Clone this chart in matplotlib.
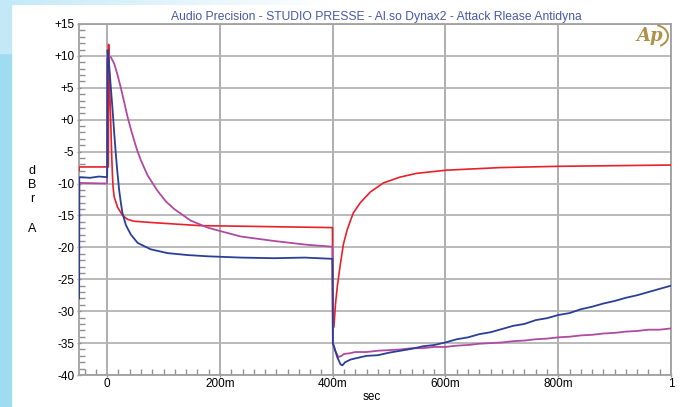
import matplotlib.pyplot as plt
import numpy as np
from matplotlib.patches import Rectangle, Arc
from matplotlib.colors import LinearSegmentedColormap
from matplotlib.ticker import MultipleLocator

plt.rcParams['font.family'] = ['Liberation Sans', 'DejaVu Sans']

TITLE = "Audio Precision - STUDIO PRESSE - Al.so Dynax2 - Attack Rlease Antidyna"

# channel A, red trace (time in s, level in dBr A)
red_t = [-0.0498, -0.0495, 0.002, 0.0025, 0.0035, 0.0049, 0.0067, 0.0078, 0.0092,
         0.0104, 0.0124, 0.0184, 0.0273, 0.036, 0.047, 0.077, 0.13, 0.166, 0.25,
         0.32, 0.3995, 0.4004, 0.4021, 0.4048, 0.4083, 0.4136, 0.419, 0.4255,
         0.4315, 0.4366, 0.449, 0.467, 0.49, 0.519, 0.549, 0.6025, 0.697, 0.8,
         0.9, 1.0]
red_db = [-8.0, -7.4, -7.4, 11.8, 8.0, 3.6, -1.6, -5.0, -8.5,
          -10.5, -12.1, -13.7, -15.0, -15.6, -15.9, -16.1, -16.4, -16.6, -16.7,
          -16.8, -16.9, -32.5, -32.5, -29.0, -26.0, -22.6, -19.5, -17.3,
          -15.8, -14.6, -13.0, -11.3, -9.9, -9.0, -8.4, -7.9, -7.5, -7.3,
          -7.2, -7.1]

# blue trace
blue_t = [-0.0498, -0.0495, -0.03, -0.015, 0.0, 0.0007, 0.0035, 0.0065, 0.0096,
          0.0124, 0.0154, 0.0184, 0.0212, 0.0242, 0.027, 0.0331, 0.042, 0.054,
          0.077, 0.107, 0.142, 0.178, 0.237, 0.296, 0.35, 0.3995, 0.4003, 0.408,
          0.4137, 0.417, 0.422, 0.431, 0.44, 0.46, 0.48, 0.50, 0.52, 0.54, 0.56,
          0.58, 0.60, 0.62, 0.64, 0.66, 0.68, 0.70, 0.72, 0.74, 0.76, 0.78, 0.80,
          0.82, 0.84, 0.86, 0.88, 0.90, 0.92, 0.94, 0.96, 0.98, 1.0]
blue_db = [-28.0, -9.0, -9.1, -8.9, -9.0, 10.9, 8.5, 5.0, 1.5,
           -2.0, -5.5, -8.5, -11.0, -13.0, -14.6, -16.5, -18.0, -19.3,
           -20.3, -20.9, -21.2, -21.4, -21.6, -21.7, -21.6, -21.8, -35.0, -37.2,
           -38.3, -38.5, -38.0, -37.6, -37.4, -37.0, -36.9, -36.5, -36.2, -35.9, -35.5,
           -35.3, -34.9, -34.4, -34.1, -33.6, -33.3, -32.8, -32.3, -32.0, -31.4, -31.1, -30.6,
           -30.3, -29.7, -29.3, -28.8, -28.4, -27.9, -27.5, -27.0, -26.5, -26.0]

# magenta trace
mag_t = [-0.0498, -0.0495, -0.0002, 0.0, 0.003, 0.0065, 0.0124, 0.0184, 0.0242,
         0.030, 0.036, 0.042, 0.048, 0.054, 0.060, 0.0715, 0.089, 0.104, 0.119,
         0.148, 0.178, 0.207, 0.237, 0.296, 0.355, 0.3995, 0.4003, 0.405, 0.410,
         0.4155, 0.42, 0.43, 0.44, 0.46, 0.48, 0.50, 0.52, 0.54, 0.56, 0.58, 0.60,
         0.62, 0.64, 0.66, 0.68, 0.70, 0.72, 0.74, 0.76, 0.78, 0.80, 0.82, 0.84,
         0.86, 0.88, 0.90, 0.92, 0.94, 0.96, 0.98, 1.0]
mag_db = [-27.0, -9.9, -10.0, 9.5, 9.9, 9.8, 8.8, 7.0, 5.0,
          2.8, 0.5, -1.5, -3.3, -5.0, -6.4, -8.7, -11.1, -12.8, -14.0,
          -15.8, -16.9, -17.6, -18.3, -19.0, -19.6, -19.9, -35.0, -36.3, -37.2,
          -37.0, -36.7, -36.6, -36.4, -36.4, -36.2, -36.1, -36.0, -35.8, -35.8, -35.6, -35.6,
          -35.4, -35.3, -35.1, -35.0, -34.9, -34.7, -34.6, -34.4, -34.3, -34.1, -34.0, -33.8,
          -33.7, -33.5, -33.4, -33.2, -33.1, -32.9, -32.9, -32.7]

y_ticks = [15, 10, 5, 0, -5, -10, -15, -20, -25, -30, -35, -40]
y_labels = ["+15", "+10", "+5", "+0", "-5", "-10", "-15", "-20", "-25", "-30", "-35", "-40"]
x_ticks = [0, 0.2, 0.4, 0.6, 0.8, 1.0]
x_labels = ["0", "200m", "400m", "600m", "800m", "1"]

W, H = 689, 407
fig = plt.figure(figsize=(W / 100, H / 100), dpi=100)
fig.patch.set_facecolor("white")

# light blue frame strips on the left and top
fig.add_artist(Rectangle((0, 0), 11 / W, 1 - 53 / H, transform=fig.transFigure,
                         color="#9fdcf2", zorder=0))
fig.add_artist(Rectangle((0, 1 - 53 / H), 11 / W, 48 / H, transform=fig.transFigure,
                         color="#c3e9f7", zorder=0))
grad = np.linspace(1, 0, 256)[None, :]
bg = fig.add_axes([0, 1 - 5 / H, 330 / W, 5 / H], zorder=0)
bg.imshow(grad, aspect="auto", vmin=0, vmax=1,
          cmap=LinearSegmentedColormap.from_list("strip", ["#ffffff", "#c3e9f7"]))
bg.axis("off")

ax = fig.add_axes([79 / W, 1 - 375 / H, (671 - 79) / W, (375 - 24) / H])
ax.set_xlim(-0.05, 1.0)
ax.set_ylim(-40, 15)

ax.plot(red_t, red_db, color="#e8202a", lw=1.2, zorder=3)
ax.plot(mag_t, mag_db, color="#b04aa0", lw=1.3, zorder=4)
ax.plot(blue_t, blue_db, color="#2a3f98", lw=1.3, zorder=5)

ax.set_yticks(y_ticks)
ax.set_yticklabels(y_labels)
ax.set_xticks(x_ticks)
ax.set_xticklabels(x_labels)
ax.yaxis.set_minor_locator(MultipleLocator(1))
ax.xaxis.set_minor_locator(MultipleLocator(0.02))
ax.tick_params(axis="both", which="major", labelsize=8.5, colors="#909090",
               labelcolor="black", length=3, width=1, direction="inout")
ax.tick_params(axis="both", which="minor", colors="#909090", length=4,
               width=1, direction="in")
ax.tick_params(axis="y", pad=2)
ax.tick_params(axis="x", pad=1)

ax.grid(True, which="major", axis="y", color="#b4b4b4", lw=1.3)
ax.grid(True, which="major", axis="x", color="#989898", lw=1.1)
for sp in ax.spines.values():
    sp.set_color("#a0a0a0")
    sp.set_linewidth(1.3)

fig.text(376 / W, 1 - 17 / H, TITLE, ha="center", va="center", fontsize=8.7,
         color="#4a58a8")
fig.text(372 / W, 1 - 397 / H, "sec", ha="center", va="center", fontsize=8.5)
for letter, ypx in [("d", 171), ("B", 185), ("r", 199), ("A", 229)]:
    fig.text(32 / W, 1 - ypx / H, letter, ha="center", va="center", fontsize=9)

# AP logo
fig.text(650 / W, 1 - 36 / H, "Ap", ha="center", va="center", fontsize=13,
         style="italic", weight="bold", family="DejaVu Serif", color="#ae9046")
fig.add_artist(Arc((654 / W, 1 - 36 / H), 28 / W, 22 / H, theta1=-70, theta2=80,
                   transform=fig.transFigure, color="#ae9046", lw=1.4))

fig.savefig("out.png", dpi=100)
